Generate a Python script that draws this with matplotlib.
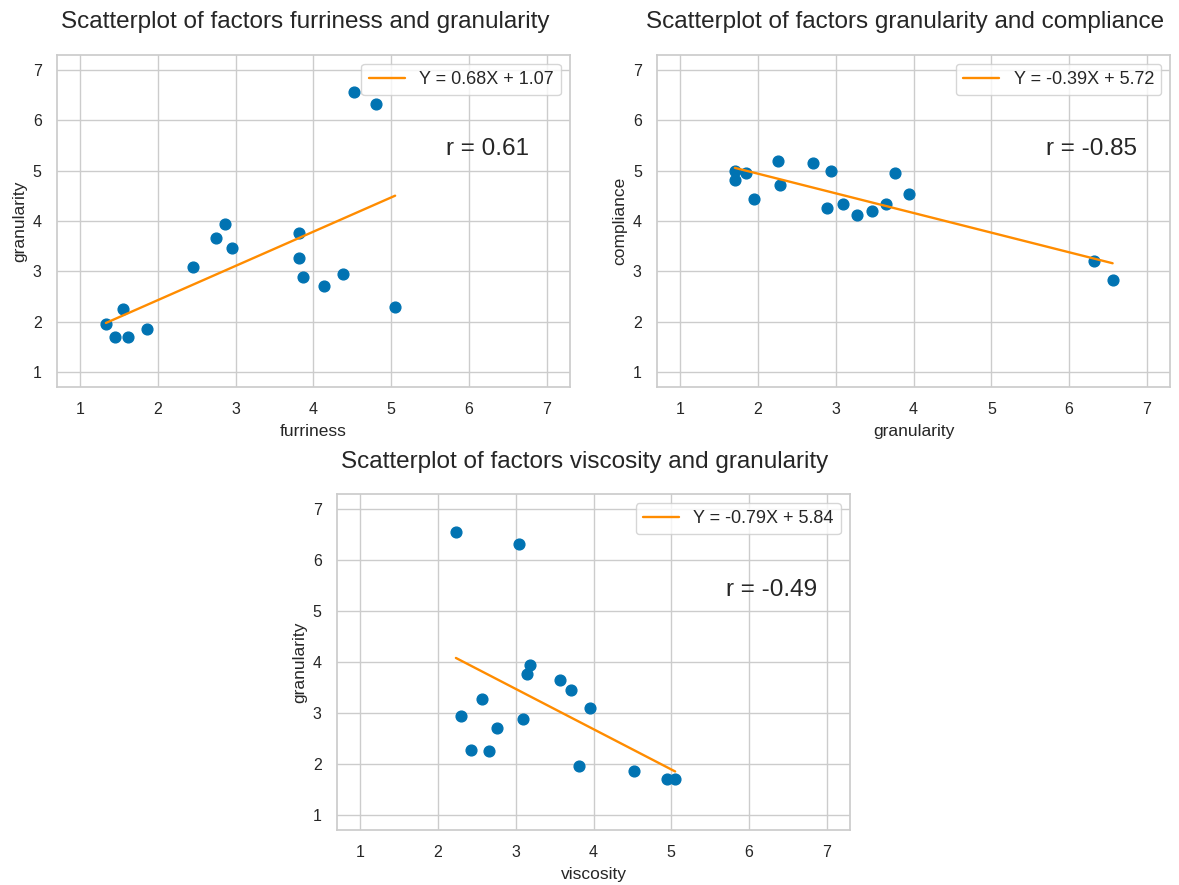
import numpy as np
import seaborn as sns
import matplotlib.pyplot as plt

sns.set_theme(style="whitegrid")
plt.rcParams['font.family'] = ['Liberation Sans', 'DejaVu Sans']

furriness = [1.33, 1.45, 1.62, 1.55, 1.86, 2.45, 2.75, 2.86, 2.95, 3.81, 3.81, 3.86, 4.14, 4.38, 4.52, 4.81, 5.05]
granularity = [1.95, 1.70, 1.70, 2.25, 1.85, 3.09, 3.65, 3.94, 3.46, 3.76, 3.27, 2.89, 2.70, 2.94, 6.56, 6.32, 2.28]
compliance = [4.43, 5.00, 4.81, 5.19, 4.96, 4.34, 4.34, 4.53, 4.19, 4.96, 4.11, 4.25, 5.14, 5.00, 2.82, 3.20, 4.72]
viscosity = [3.81, 4.95, 5.05, 2.65, 4.52, 3.95, 3.57, 3.18, 3.71, 3.14, 2.57, 3.09, 2.76, 2.30, 2.23, 3.04, 2.43]

pairs = [("furriness", "granularity"), ("granularity", "compliance"), ("viscosity", "granularity")]
data = {"furriness": furriness, "granularity": granularity,
        "compliance": compliance, "viscosity": viscosity}

fig = plt.figure(figsize=(11.79, 8.85), dpi=100)
axes = [fig.add_axes([0.0483, 0.5627, 0.4352, 0.3755]),
        fig.add_axes([0.5573, 0.5627, 0.4352, 0.3755]),
        fig.add_axes([0.2858, 0.0621, 0.4352, 0.3797])]

for ax, (xn, yn) in zip(axes, pairs):
    x = np.array(data[xn])
    y = np.array(data[yn])
    ax.scatter(x, y, s=60, color="#0173B2", zorder=3)
    p = np.polyfit(x, y, 1)
    r = np.corrcoef(x, y)[0, 1]
    xr = np.linspace(x.min(), x.max())
    sign = "+" if p[1] >= 0 else "-"
    ax.plot(xr, np.polyval(p, xr), color="darkorange", lw=1.7,
            label="Y = %.2fX %s %.2f" % (p[0], sign, abs(p[1])), zorder=4)
    ax.text(5.7, 5.3, "r = %.2f" % r, fontsize=17.5, color=".15")
    ax.set_xlim(0.7, 7.3)
    ax.set_ylim(0.7, 7.3)
    ax.set_xticks(range(1, 8))
    ax.set_yticks(range(1, 8))
    ax.tick_params(labelsize=11.5, pad=5)
    ax.set_xlabel(xn, fontsize=12.5, labelpad=5)
    ax.set_ylabel(yn, fontsize=12.5)
    ax.set_title("Scatterplot of factors %s and %s" % (xn, yn), fontsize=17.5, pad=19, x=0.483)
    ax.legend(loc="upper right", fontsize=13)

plt.savefig("out.png")
